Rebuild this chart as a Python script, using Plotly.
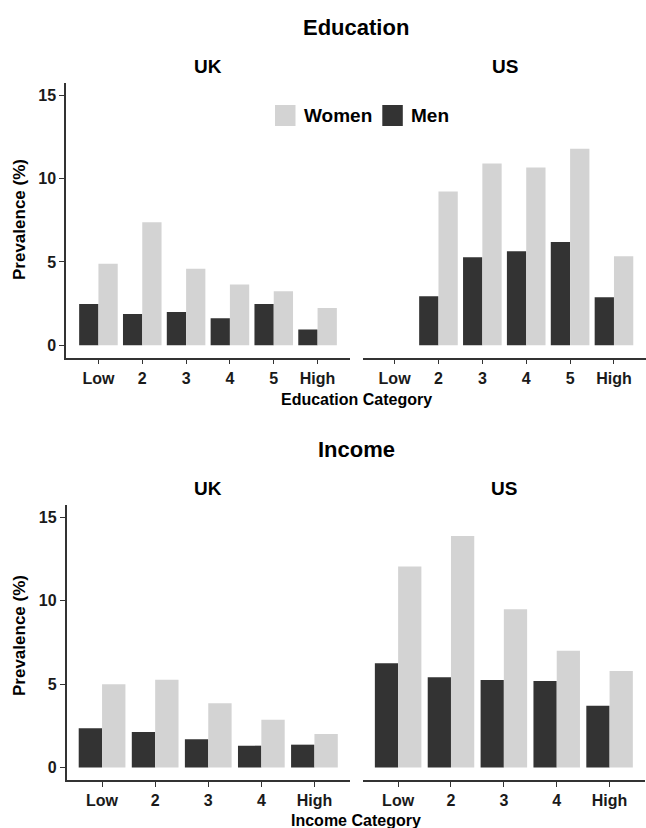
import plotly.graph_objects as go

W, H = 646, 828

edu_cats = ["Low", "2", "3", "4", "5", "High"]
edu_uk_men = [2.48, 1.88, 2.0, 1.62, 2.48, 0.94]
edu_uk_women = [4.9, 7.38, 4.6, 3.64, 3.24, 2.24]
edu_us_men = [None, 2.94, 5.28, 5.64, 6.2, 2.88]
edu_us_women = [None, 9.24, 10.92, 10.68, 11.8, 5.34]

inc_cats = ["Low", "2", "3", "4", "High"]
inc_uk_men = [2.35, 2.13, 1.70, 1.31, 1.37]
inc_uk_women = [5.0, 5.27, 3.85, 2.87, 2.01]
inc_us_men = [6.25, 5.41, 5.25, 5.19, 3.7]
inc_us_women = [12.06, 13.89, 9.49, 7.0, 5.79]

y_ticks = [0, 5, 10, 15]

MEN = "#333333"
WOMEN = "#d3d3d3"
FONT = "Liberation Sans"
TXT = "#1a1a1a"


def px(x):
    return x / W


def py(y):
    return 1 - y / H


fig = go.Figure()

panels = [
    ("x", "y", edu_cats, edu_uk_men, edu_uk_women),
    ("x2", "y2", edu_cats, edu_us_men, edu_us_women),
    ("x3", "y3", inc_cats, inc_uk_men, inc_uk_women),
    ("x4", "y4", inc_cats, inc_us_men, inc_us_women),
]
for xa, ya, cats, men, women in panels:
    fig.add_trace(go.Bar(x=cats, y=men, name="Men", marker=dict(color=MEN, line=dict(width=0)),
                         xaxis=xa, yaxis=ya, showlegend=False, offsetgroup="m"))
    fig.add_trace(go.Bar(x=cats, y=women, name="Women", marker=dict(color=WOMEN, line=dict(width=0)),
                         xaxis=xa, yaxis=ya, showlegend=False, offsetgroup="w"))

tickfont = dict(family=FONT, size=16, color=TXT, weight="bold")
axis_common = dict(showgrid=False, zeroline=False, showline=True, linecolor="#333333",
                   linewidth=1.5, ticks="outside", ticklen=5, tickwidth=1.2,
                   tickcolor="#333333", tickfont=tickfont)

top_dom = [py(357.7), py(83)]
bot_dom = [py(780), py(505)]

fig.update_layout(
    width=W, height=H, autosize=False,
    margin=dict(l=0, r=0, t=0, b=0),
    paper_bgcolor="white", plot_bgcolor="white",
    barmode="group", bargap=0.12, bargroupgap=0,
    showlegend=False,
    xaxis=dict(domain=[px(66), px(350)], anchor="y", type="category",
               range=[-0.74, 5.74], **axis_common),
    xaxis2=dict(domain=[px(363), px(646)], anchor="y2", type="category",
                range=[-0.72, 5.73], **axis_common),
    xaxis3=dict(domain=[px(66.5), px(350)], anchor="y3", type="category",
                range=[-0.67, 4.67], **axis_common),
    xaxis4=dict(domain=[px(362.7), px(645)], anchor="y4", type="category",
                range=[-0.67, 4.67], **axis_common),
    yaxis=dict(domain=top_dom, anchor="x", range=[-0.75, 15.75], tickvals=y_ticks, **axis_common),
    yaxis2=dict(domain=top_dom, anchor="x2", range=[-0.75, 15.75], showline=False,
                showticklabels=False, ticks="", showgrid=False, zeroline=False),
    yaxis3=dict(domain=bot_dom, anchor="x3", range=[-0.75, 15.75], tickvals=y_ticks, **axis_common),
    yaxis4=dict(domain=bot_dom, anchor="x4", range=[-0.75, 15.75], showline=False,
                showticklabels=False, ticks="", showgrid=False, zeroline=False),
)


def ann(text, x, y, size, angle=0, xanchor="center"):
    fig.add_annotation(text=text, x=px(x), y=py(y), xref="paper", yref="paper",
                       showarrow=False, xanchor=xanchor, yanchor="middle", textangle=angle,
                       font=dict(family=FONT, size=size, color="black", weight="bold"))


ann("Education", 356, 27, 22)
ann("UK", 208, 66, 19)
ann("US", 504.5, 66, 19)
ann("Income", 356, 449, 22)
ann("UK", 208, 489, 19)
ann("US", 504, 489, 19)
ann("Education Category", 356, 400, 16)
ann("Income Category", 356, 820, 16)
ann("Prevalence (%)", 19, 220, 17, angle=-90)
ann("Prevalence (%)", 19, 636, 17, angle=-90)

# legend (manual)
for x0, color in [(275, WOMEN), (382.3, MEN)]:
    fig.add_shape(type="rect", xref="paper", yref="paper", x0=px(x0), x1=px(x0 + 20.5),
                  y0=py(126), y1=py(105), fillcolor=color, line=dict(width=0))
ann("Women", 302, 115.5, 19, xanchor="left")
ann("Men", 408.5, 115.5, 19, xanchor="left")

fig.write_html(
    "out.html",
    config={"displayModeBar": False},
    post_script="document.body.style.margin='0px';document.body.style.overflow='hidden';",
)
